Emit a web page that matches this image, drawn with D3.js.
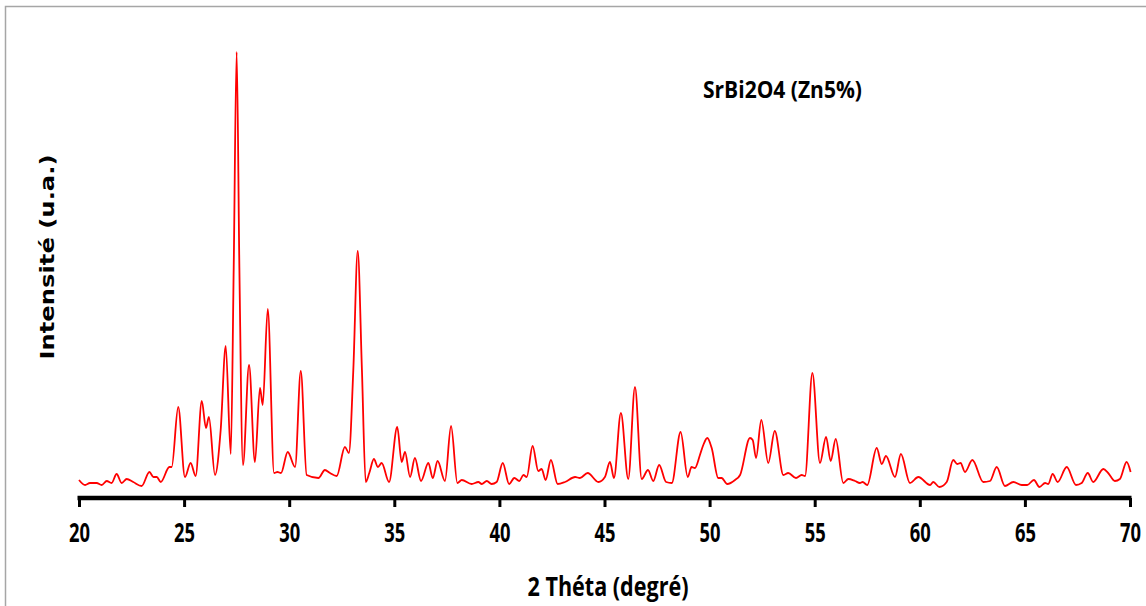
<!DOCTYPE html>
<html>
<head>
<meta charset="utf-8">
<script src="https://cdn.jsdelivr.net/npm/d3@7"></script>
<style>
  html, body { margin: 0; padding: 0; background: #fff; }
  svg { display: block; }
</style>
</head>
<body>
<svg id="chart" width="1146" height="606"></svg>
<script>
// XRD pattern of SrBi2O4 doped with 5% Zn
const twoTheta = [
  20.00, 20.29, 20.52, 20.84, 21.08, 21.32, 21.55, 21.79, 22.03, 22.27, 22.58, 22.98,
  23.35, 23.54, 23.70, 23.89, 24.30, 24.41, 24.72, 25.04, 25.31, 25.55, 25.84, 26.04,
  26.18, 26.47, 26.74, 26.98, 27.22, 27.36, 27.50, 27.63, 27.80, 28.09, 28.37, 28.61,
  28.74, 28.98, 29.28, 29.44, 29.61, 29.93, 30.28, 30.55, 30.83, 31.39, 31.70, 31.94,
  32.26, 32.65, 32.84, 33.05, 33.26, 33.46, 33.64, 33.81, 34.03, 34.22, 34.40, 34.75,
  35.14, 35.35, 35.51, 35.75, 35.98, 36.27, 36.62, 36.83, 37.06, 37.41, 37.70, 38.00,
  38.21, 38.68, 39.00, 39.16, 39.40, 39.63, 39.87, 40.16, 40.46, 40.71, 40.95, 41.14,
  41.30, 41.58, 41.85, 42.01, 42.20, 42.45, 42.77, 43.12, 43.60, 43.83, 44.20, 44.71,
  45.02, 45.26, 45.45, 45.78, 46.13, 46.45, 46.77, 47.07, 47.32, 47.60, 47.93, 48.20,
  48.62, 48.96, 49.14, 49.30, 49.54, 49.70, 49.89, 50.10, 50.41, 50.57, 50.84, 51.21,
  51.45, 51.92, 52.05, 52.21, 52.46, 52.79, 53.10, 53.51, 53.74, 54.11, 54.38, 54.54,
  54.89, 55.25, 55.54, 55.76, 56.00, 56.36, 56.60, 56.92, 57.15, 57.28, 57.50, 57.95,
  58.19, 58.39, 58.82, 59.10, 59.53, 59.93, 60.49, 60.64, 60.93, 61.28, 61.59, 61.78,
  61.94, 62.15, 62.50, 63.02, 63.34, 63.66, 64.05, 64.45, 64.85, 65.11, 65.43, 65.69,
  65.96, 66.11, 66.32, 66.56, 66.99, 67.43, 67.70, 67.99, 68.25, 68.73, 68.96, 69.28,
  69.52, 69.84, 70.03
];
const intensity = [
  18, 13, 15, 15, 13, 17, 15, 24, 15, 19, 16, 12,
  26, 21, 21, 16, 31, 31, 91, 21, 35, 22, 97, 70,
  81, 23, 68, 152, 44, 230, 446, 230, 33, 133, 36, 110,
  93, 189, 25, 26, 25, 46, 31, 127, 23, 20, 28, 25,
  22, 51, 45, 128, 247, 128, 16, 25, 39, 31, 35, 16,
  71, 36, 46, 21, 40, 17, 35, 20, 37, 17, 72, 15,
  18, 14, 16, 14, 17, 14, 16, 35, 14, 20, 17, 23,
  21, 52, 27, 29, 18, 38, 14, 16, 21, 20, 25, 16,
  21, 36, 20, 85, 19, 111, 19, 28, 17, 33, 16, 15,
  66, 21, 31, 30, 43, 53, 60, 50, 20, 20, 14, 18,
  23, 60, 58, 40, 78, 35, 67, 23, 25, 20, 23, 22,
  125, 35, 61, 37, 59, 15, 19, 17, 15, 16, 13, 50,
  34, 42, 21, 44, 15, 21, 13, 16, 11, 16, 38, 34,
  35, 26, 38, 16, 17, 31, 12, 16, 13, 13, 18, 11,
  15, 14, 24, 16, 31, 13, 15, 25, 16, 29, 25, 17,
  19, 36, 26
];
const xTicks = [20, 25, 30, 35, 40, 45, 50, 55, 60, 65, 70];
const xDomain = [20, 70];
const yDomain = [0, 450];
const seriesName = "SrBi2O4 (Zn5%)";
const xTitle = "2 Théta (degré)";
const yTitle = "Intensité (u.a.)";

const labelFont = "'Open Sans', sans-serif";
const svg = d3.select("#chart");

// outer chart frame
svg.append("rect")
  .attr("x", 5.5).attr("y", 6.5)
  .attr("width", 1300).attr("height", 800)
  .attr("fill", "none").attr("stroke", "#a6a6a6").attr("stroke-width", 1.5);

const x = d3.scaleLinear().domain(xDomain).range([79, 1130]);
const y = d3.scaleLinear().domain(yDomain).range([498, 48]);
const axisY = 498;

// diffraction curve
const points = twoTheta.map((t, i) => [t, intensity[i]]);
const line = d3.line()
  .x(d => x(d[0]))
  .y(d => y(d[1]))
  .curve(d3.curveMonotoneX);

svg.append("path")
  .datum(points)
  .attr("d", line)
  .attr("fill", "none")
  .attr("stroke", "#ff0000")
  .attr("stroke-width", 1.8)
  .attr("stroke-linejoin", "round");

// x axis
const xAxis = d3.axisBottom(x)
  .tickValues(xTicks)
  .tickSizeInner(9)
  .tickSizeOuter(0)
  .tickPadding(17)
  .tickFormat(d3.format("d"));

const gx = svg.append("g")
  .attr("transform", `translate(0,${axisY})`)
  .call(xAxis);

gx.select(".domain")
  .attr("stroke", "#000").attr("stroke-width", 4.5)
  .attr("d", `M${x(20) - 1.5},0H${x(70) + 1.5}`);
gx.selectAll(".tick line").attr("stroke", "#000").attr("stroke-width", 3);
gx.selectAll(".tick text")
  .attr("fill", "#000")
  .attr("textLength", 21)
  .attr("lengthAdjust", "spacingAndGlyphs")
  .style("font-family", labelFont)
  .style("font-weight", "bold")
  .style("font-size", "26px");

// axis titles
svg.append("text")
  .attr("x", 608).attr("y", 596)
  .attr("text-anchor", "middle")
  .attr("textLength", 161)
  .attr("lengthAdjust", "spacingAndGlyphs")
  .style("font-family", labelFont)
  .style("font-weight", "bold")
  .style("font-size", "26px")
  .text(xTitle);

svg.append("text")
  .attr("transform", "translate(54,257) rotate(-90)")
  .attr("text-anchor", "middle")
  .attr("textLength", 205)
  .attr("lengthAdjust", "spacingAndGlyphs")
  .style("font-family", "'DejaVu Sans', sans-serif")
  .style("font-weight", "bold")
  .style("font-size", "20px")
  .text(yTitle);

// series label
svg.append("text")
  .attr("x", 703).attr("y", 98)
  .attr("textLength", 159)
  .attr("lengthAdjust", "spacingAndGlyphs")
  .style("font-family", labelFont)
  .style("font-weight", "bold")
  .style("font-size", "24px")
  .text(seriesName);
</script>
</body>
</html>
